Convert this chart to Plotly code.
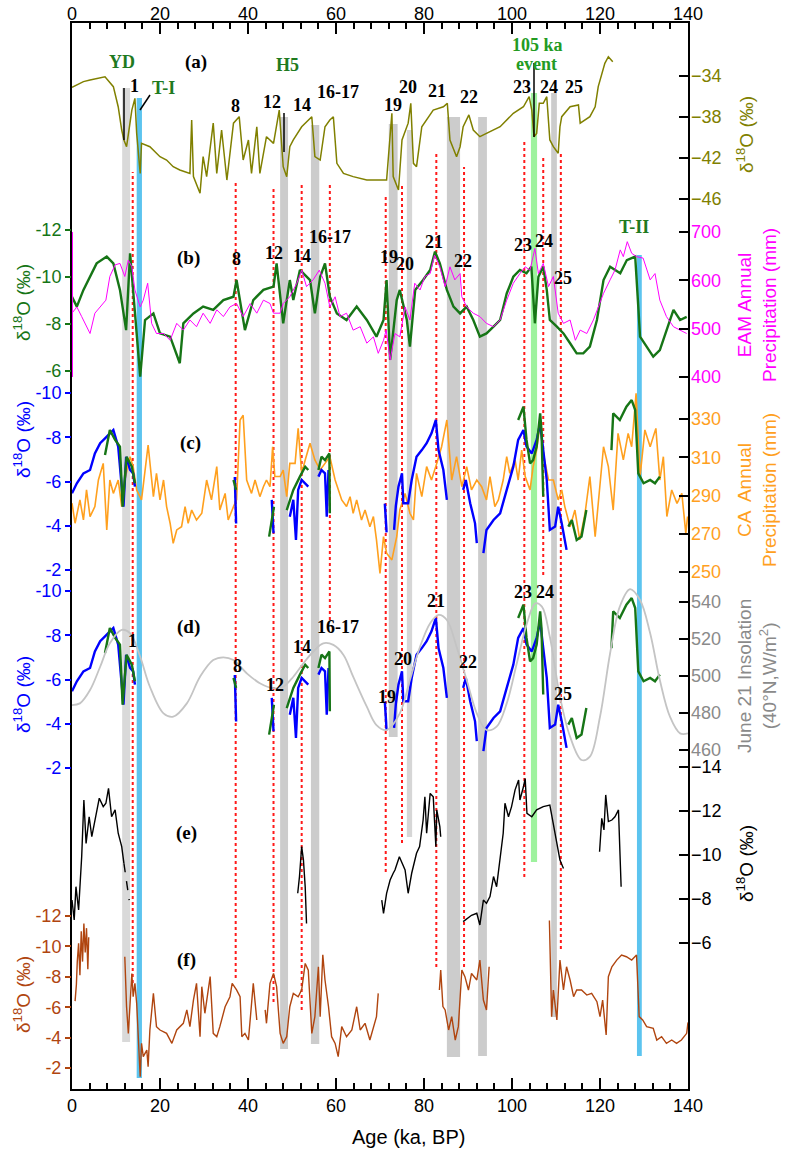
import plotly.graph_objects as go

SANS = "Liberation Sans, Arial, sans-serif"
SERIF = "Liberation Serif, Times New Roman, serif"

# ---------------- data ----------------
# (a) Greenland-type d18O (olive)
a_age = [0,2.6,4.1,6.4,7.5,9.4,10.5,11.3,11.8,12.4,13.6,14.3,14.7,15.5,15.8,17.7,20.0,21.5,23.0,24.5,26.8,27.2,27.6,29.1,29.8,30.6,32.1,32.9,34.0,35.2,36.7,38.0,38.9,40.1,40.8,42.0,42.7,44.2,45.8,47.1,48.0,48.8,49.5,50.3,52.2,54.5,55.2,56.4,57.5,58.6,59.4,60.2,61.7,63.9,67.0,70.0,71.5,72.7,73.0,74.2,75.0,76.4,77.0,77.6,78.3,79.5,82.1,84.4,85.3,85.9,87.4,88.2,88.9,90.2,91.2,92.7,94.2,97.3,100.3,102.6,103.9,104.5,105.0,105.6,106.2,107.1,107.9,108.6,109.4,110.5,110.9,111.3,113.2,115.1,115.5,117.7,118.9,119.6,121.1,121.9,122.9]
a_d18o = [-35.1,-34.55,-34.4,-34.2,-34.07,-35.04,-37.0,-39.27,-40.24,-40.9,-37.32,-36.18,-39.6,-43.5,-40.57,-40.9,-41.87,-42.2,-42.85,-43.17,-43.5,-38.29,-43.82,-45.44,-41.87,-43.82,-38.6,-43.5,-39.27,-44.15,-38.6,-37.97,-42.2,-40.24,-43.5,-38.95,-43.5,-39.92,-40.57,-37.32,-42.85,-43.82,-40.9,-40.24,-38.95,-37.97,-41.87,-42.2,-38.95,-38.29,-37.97,-42.52,-43.5,-43.82,-44.15,-44.15,-44.15,-37.64,-43.82,-45.12,-40.24,-38.6,-36.67,-42.52,-42.85,-38.95,-37.32,-37.0,-36.67,-40.24,-41.87,-40.9,-38.95,-37.8,-39.27,-39.92,-39.6,-38.95,-37.64,-37.0,-36.02,-37.32,-39.92,-39.6,-36.67,-36.67,-36.02,-40.24,-40.9,-41.54,-38.95,-37.97,-37.0,-36.83,-38.6,-37.97,-37.0,-35.04,-32.76,-32.12,-32.6]

# (b) composite speleothem d18O (green) and EAM annual precipitation (magenta)
b_age = [0,1.1,2.6,4.1,5.6,7.9,9.4,10.9,12.3,13.2,13.9,14.7,15.5,16.6,18.5,20.0,22.3,24.5,25.3,27.6,29.8,32.1,34.4,36.7,37.4,39.3,41.2,43.5,45.8,46.5,48.0,49.5,50.3,51.8,54.1,55.2,56.4,57.5,58.6,60.2,62.4,64.7,67.0,69.2,70.8,71.5,72.3,73.8,74.5,76.1,76.8,78.0,79.8,81.4,82.5,83.6,85.2,86.7,88.2,89.7,91.2,92.7,94.2,95.8,97.3,98.8,100.3,101.8,103.3,104.4,105.2,106.0,107.1,107.9,108.6,110.2,111.7,113.2,114.7,116.2,117.7,119.3,120.8,122.3,124.6,126.1,128.0,128.7,129.1,130.6,132.1,133.6,135.1,136.7,138.2,139.7]
b_d18o = [-9.16,-8.74,-9.45,-10.01,-10.58,-10.87,-10.58,-9.45,-7.74,-11.01,-9.45,-7.89,-5.76,-8.17,-8.45,-7.6,-7.46,-6.33,-8.03,-8.45,-8.74,-8.6,-9.02,-9.16,-9.87,-7.74,-9.02,-9.45,-9.59,-10.58,-8.03,-9.87,-9.02,-10.3,-9.87,-8.45,-10.01,-10.58,-9.16,-8.45,-8.17,-8.74,-8.17,-7.46,-8.17,-9.87,-6.47,-9.02,-9.45,-8.17,-7.04,-9.45,-9.87,-10.3,-11.08,-10.58,-9.45,-8.74,-8.45,-8.74,-8.17,-7.46,-7.6,-7.89,-8.17,-9.3,-10.01,-10.3,-10.16,-10.44,-8.03,-10.01,-10.44,-9.45,-8.17,-7.89,-7.6,-7.18,-6.75,-6.75,-7.04,-8.17,-9.87,-10.44,-10.16,-10.72,-10.87,-8.74,-7.46,-7.04,-6.61,-6.89,-7.74,-8.6,-8.17,-8.3]
eam_age = [0,1.1,2.2,4.1,5.2,6.4,7.7,8.6,9.8,10.9,12.0,12.8,13.6,14.3,15.5,16.2,17.2,18.1,19.2,20.8,22.3,23.8,25.3,26.8,28.3,29.8,31.4,32.9,34.4,35.9,37.4,38.9,40.5,42.0,43.5,45.0,45.8,47.3,48.0,49.5,51.1,52.2,53.3,54.8,56.2,57.5,58.6,59.8,60.9,62.4,63.9,65.5,67.0,68.5,69.6,70.8,71.4,72.3,73.4,74.5,75.7,76.8,77.9,79.1,80.2,81.4,82.4,83.6,84.8,85.9,87.0,88.2,88.6,89.7,91.2,92.7,94.2,95.8,97.3,98.8,100.3,101.8,103.0,104.1,105.2,106.0,107.1,108.3,109.4,110.5,111.7,113.2,114.4,115.5,117.0,118.5,119.6,120.8,122.3,123.4,124.6,125.3,126.2,127.2,128.3,129.8,131.4,132.5,133.6,135.1,136.7,138.2,139.7]
eam_mm = [532,545,525,490,532,545,559,608,632,635,608,642,628,580,545,559,594,511,490,490,476,511,497,518,504,532,511,539,525,545,552,525,552,532,559,552,532,532,552,566,594,621,587,601,621,594,545,566,525,532,497,504,470,483,449,476,497,435,490,483,545,518,594,580,608,614,652,628,587,628,601,614,566,545,532,525,511,504,518,559,594,614,628,621,666,614,635,587,608,532,511,518,476,497,490,518,545,573,601,621,663,649,680,656,649,646,601,614,559,525,504,497,490]

# (c) CA annual precipitation (orange)
ca_age = [0,0.7,1.8,2.6,3.3,4.1,5.2,6.0,7.1,7.9,8.6,9.4,10.5,11.3,12.0,13.2,13.9,14.7,15.8,17.3,18.5,19.2,20.0,20.8,21.5,22.3,23.0,23.8,24.9,25.7,26.4,27.2,28.3,29.5,30.6,31.7,32.9,33.6,34.8,35.5,36.7,37.4,38.2,38.9,39.7,40.8,41.6,42.7,43.5,44.2,45.0,45.6,46.1,47.3,48.0,48.8,49.5,50.7,51.4,52.2,53.0,54.1,55.2,56.4,57.5,58.6,59.8,60.5,61.3,62.4,63.2,63.9,64.7,65.8,66.6,67.7,68.5,69.2,70.0,70.8,71.5,72.7,73.8,74.5,75.7,76.8,77.6,78.3,79.5,80.6,81.7,82.9,84.0,85.2,86.3,87.4,88.6,89.7,90.8,92.0,93.1,94.2,95.0,96.1,96.9,98.0,98.8,99.5,100.7,101.4,102.2,103.0,104.1,104.8,105.6,106.4,107.1,108.3,109.4,110.5,111.3,112.0,113.2,114.3,115.4,116.6,117.7,118.9,120.0,120.8,121.9,123.0,124.1,125.3,126.4,127.2,128.2,129.1,130.2,131.4,132.7,133.6,134.4,135.2,136.3,137.5,138.6,139.5,139.9]
ca_mm = [286,275.5,287.7,277.2,292.9,279,284.2,298.1,306.8,272,298.1,291.1,298.1,284.2,298.1,310.3,305.1,292.9,287.7,316.4,289.4,301.6,287.7,298.1,284.2,275.5,265,272,273.7,284.2,275.5,282.4,277.2,280.7,298.1,287.7,305.1,282.4,291.1,277.2,284.2,287.7,329.5,332,298.1,291.1,298.1,289.4,294.6,298.1,294.6,315.5,299.9,299.9,303.3,289.4,306.8,306.8,325.1,301.6,308.6,317.3,308.6,303.3,306.8,310.3,298.1,292.9,287.7,284.2,289.4,280.7,287.7,277.2,282.4,273.7,279,266.8,249.3,268.5,259.8,256.3,268.5,282.4,291.1,280.7,277.2,301.6,289.4,305.1,298.1,306.8,315.5,329.5,298.1,310.3,294.6,305.1,292.9,298.1,294.6,287.7,299.9,284.2,287.7,298.1,310.3,301.6,308.6,298.1,313.8,299.9,292.9,305.1,313.8,327.7,312.1,298.1,298.1,287.7,292.9,284.2,273.7,282.4,266.8,280.7,299.9,268.5,298.1,315.5,305.1,282.4,322.5,308.6,322.5,315.5,343.4,299.9,324.3,315.5,325.1,298.1,310.3,279,292.9,285.9,291.1,270.2,279]

# (c)/(d) Central Asian speleothem records: blue and green
blue_age = [0,1.1,2.6,4.1,5.2,6.4,7.9,9.4,10.5,11.3,11.7,12.3,13.2,13.9,14.3,None,37.0,37.3,None,45.4,45.8,None,49.5,50.3,50.9,51.4,52.2,53.0,53.7,None,56.0,56.7,57.5,57.9,58.3,None,71.1,71.5,None,73.2,73.6,74.2,75.0,75.3,76.4,77.2,78.3,79.5,80.6,81.7,82.7,83.3,84.4,85.2,None,88.9,89.5,90.5,91.6,92.0,None,93.5,94.2,95.8,97.3,98.8,100.3,101.4,102.6,103.3,104.5,105.6,106.4,107.1,107.9,108.6,109.8,110.5,111.3,112.4]
blue_d18o = [-5.47,-5.92,-6.37,-6.52,-7.27,-7.73,-8.03,-8.33,-7.58,-5.47,-4.86,-7.12,-6.52,-6.37,-5.77,None,-6.2,-4.1,None,-5.17,-3.66,None,-4.41,-5.17,-3.36,-5.62,-6.07,-5.92,-5.77,None,-6.22,-6.52,-6.37,-4.41,-6.52,None,-5.0,-3.7,None,-3.81,-4.9,-5.77,-6.37,-5.02,-5.02,-6.07,-7.12,-7.42,-7.73,-8.18,-8.78,-7.42,-6.52,-5.17,None,-5.62,-6.07,-5.02,-4.11,-3.21,None,-2.76,-3.81,-4.26,-4.56,-5.62,-6.67,-7.88,-8.33,-7.58,-7.27,-7.88,-8.63,-7.42,-6.07,-3.81,-3.96,-4.86,-4.11,-2.91]
green_age = [7.5,8.6,9.8,10.9,11.5,12.4,13.6,14.3,None,36.7,37.3,None,44.8,45.9,None,48.8,50.3,51.8,53.0,53.7,None,56.0,56.7,57.5,58.5,58.6,None,101.4,102.6,103.3,104.1,104.8,105.6,106.4,106.7,107.1,None,112.8,113.6,114.7,115.8,116.9,None,122.6,123.0,124.5,126.0,127.2,128.0,128.7,129.9,131.4,132.5,133.6]
green_d18o = [-7.2,-8.33,-7.88,-7.58,-4.86,-7.12,-6.67,-5.92,None,-6.07,-5.62,None,-3.51,-4.86,None,-4.71,-5.62,-6.22,-6.67,-6.52,None,-6.52,-7.12,-6.97,-7.27,-4.56,None,-8.78,-9.38,-7.88,-6.82,-6.97,-7.58,-9.08,-8.33,-5.32,None,-3.96,-4.26,-3.36,-3.51,-4.71,None,-7.42,-9.08,-8.78,-9.38,-9.68,-9.23,-6.37,-5.92,-6.07,-5.92,-6.22]

# (d) June 21 insolation at 40N
ins_age = [0,1.8,4.1,6.4,8.6,11.3,13.2,15.5,17.7,20.8,23.0,26.1,29.1,32.1,34.4,36.7,39.7,42.7,45.8,48.0,50.3,52.6,54.8,57.1,59.4,61.7,63.9,67.0,69.2,71.5,74.5,76.8,79.1,81.4,83.3,85.2,87.4,89.7,92.0,94.2,96.5,98.8,101.1,103.4,105.3,106.8,108.6,110.9,113.2,115.8,117.7,120.0,122.3,124.5,126.8,129.1,131.4,133.6,135.9,138.2,140.0]
ins_wm2 = [484.3,485.2,492.4,505,517.7,524.9,523.1,510.4,494.2,479.8,478,485.2,499.6,508.6,510.1,508.6,501.5,496.1,493.4,494.2,499.6,506.9,513.1,517.7,516.8,511.4,499.6,483.4,473.5,470.8,479.8,497.8,515.8,528.5,533,530.3,515.8,497.8,479.8,470.8,472.6,485.2,506.9,528.5,539.3,537.5,521.2,488.8,467.2,454.6,456.4,478,512.3,537.5,546.9,541.1,523.1,497.8,478,469,469]

# (e) black d18O record
e_age = [0,0.5,0.9,1.5,2.2,2.7,3.2,3.9,4.5,5.2,6.2,7.1,7.7,8.3,9.0,9.8,10.5,11.3,11.8,None,51.3,51.7,52.2,52.6,53.0,53.3,None,70.4,70.8,71.5,72.3,73.0,73.4,74.4,75.7,76.4,77.2,78.3,79.0,79.8,80.2,80.6,81.4,82.1,82.7,82.9,83.6,83.8,None,88.9,90.8,92.0,92.7,93.5,94.2,95.0,95.8,96.5,97.3,98.0,98.4,99.2,99.9,100.7,101.5,101.8,102.6,103.0,103.4,104.5,105.6,107.1,108.6,109.8,110.9,111.7,None,119.9,120.4,120.9,121.3,121.9,122.7,123.4,124.2,124.8]
e_d18o = [-7.95,-7.05,-8.56,-7.5,-9.92,-12.5,-10.53,-11.74,-10.83,-11.59,-12.58,-12.2,-12.35,-13.03,-11.74,-12.05,-10.99,-10.38,-9.62,None,-8.26,-9.02,-10.38,-9.77,-8.56,-6.89,None,-7.95,-7.35,-8.26,-8.86,-9.17,-9.32,-9.92,-9.32,-8.26,-9.17,-10.08,-10.38,-11.59,-12.65,-10.99,-12.8,-12.65,-10.38,-12.05,-11.29,-10.83,None,-6.97,-7.26,-7.35,-6.82,-7.95,-7.8,-8.11,-9.02,-8.56,-9.77,-10.99,-12.35,-11.74,-12.2,-12.96,-13.41,-12.5,-13.1,-13.48,-11.89,-11.74,-12.05,-12.2,-12.27,-10.99,-9.77,-9.39,None,-10.15,-11.67,-11.14,-12.73,-11.52,-11.59,-11.74,-12.05,-8.56]
e_dash_age = [11.8,12.4,13.0]
e_dash_d18o = [-9.62,-8.86,-7.95]

# (f) brown d18O record
f_age = [0.7,1.0,1.2,1.5,1.8,2.1,2.4,2.7,3.0,3.3,3.6,3.8,None,12.0,12.4,12.8,13.2,13.6,13.9,14.3,14.7,15.1,15.5,15.8,16.2,17.0,17.3,17.7,18.5,19.2,20.0,21.5,22.7,23.8,25.3,26.1,26.8,27.6,28.3,29.1,29.5,30.2,31.4,32.1,32.9,33.6,34.8,35.9,36.4,37.4,38.2,38.6,39.3,40.1,40.5,41.2,42.0,None,43.9,44.2,45.0,45.8,46.5,47.3,48.0,48.8,49.5,50.3,51.4,52.2,53.0,53.7,54.5,55.2,56.0,56.4,57.0,57.5,58.3,59.0,59.8,60.5,61.3,62.4,63.6,64.7,65.5,66.6,67.7,68.5,69.2,69.6,None,83.5,83.8,84.3,84.8,85.6,86.3,87.1,87.8,88.6,89.3,90.1,90.8,92.0,92.7,93.5,94.2,94.8,None,108.5,109.0,109.4,110.2,110.9,111.7,112.4,113.2,114.0,114.7,115.8,117.0,118.1,119.3,120.0,120.6,121.4,121.9,122.7,123.8,124.9,126.0,127.2,128.3,128.9,129.7,130.6,132.1,132.9,134.0,135.1,136.3,137.4,138.5,139.7,140.0]
f_d18o = [-6.4,-7.5,-9.0,-10.2,-8.1,-11.0,-9.0,-11.5,-9.6,-11.2,-8.5,-10.6,None,-9.32,-6.04,-4.28,-6.47,-8.22,-6.69,-7.57,-6.25,-3.84,-1.43,-3.62,-2.75,-3.18,-2.09,-4.5,-6.91,-4.72,-4.5,-4.28,-3.62,-4.5,-4.94,-5.82,-4.72,-6.47,-7.57,-4.06,-7.35,-5.6,-8.01,-4.28,-4.06,-4.72,-6.03,-6.69,-7.57,-7.14,-6.69,-4.06,-4.28,-3.84,-5.16,-7.57,-5.16,None,-5.82,-4.94,-7.57,-8.22,-7.35,-4.28,-3.62,-4.06,-6.03,-6.91,-6.69,-7.14,-8.88,-8.44,-4.28,-5.38,-8.66,-5.38,-9.45,-7.79,-6.03,-4.06,-3.62,-2.75,-4.72,-4.06,-4.5,-6.03,-4.5,-4.94,-3.84,-4.72,-5.38,-6.91,None,-7.13,-8.45,-6.04,-5.82,-4.5,-5.38,-3.84,-4.72,-8.45,-8.01,-7.13,-8.22,-7.79,-9.1,-6.47,-5.82,-8.66,None,-11.7,-5.38,-7.13,-5.16,-9.1,-7.13,-8.66,-7.79,-6.69,-7.13,-7.13,-6.8,-6.91,-6.36,-5.38,-6.47,-4.17,-8.01,-8.66,-9.1,-9.43,-9.32,-9.1,-9.43,-5.38,-5.16,-4.72,-4.61,-3.84,-4.06,-3.62,-3.84,-3.62,-3.84,-4.28,-5.0]

# event bands (ka) and dotted event lines (ka)
band_start = [11.4, 14.7, 47.3, 54.3, 72.0, 76.1, 85.2, 92.3, 104.3, 108.9, 128.4]
band_end   = [13.2, 15.9, 49.1, 56.2, 74.0, 77.3, 88.2, 94.3, 105.7, 110.2, 129.5]
event_age  = [13.8, 37.2, 45.8, 52.2, 58.6, 71.3, 75.0, 82.8, 89.1, 102.8, 107.1, 111.1]

# tick labels
x_ticks = [0, 20, 40, 60, 80, 100, 120, 140]
a_ticks = [-46, -42, -38, -34]
b_ticks = [-12, -10, -8, -6]
eam_ticks = [400, 500, 600, 700]
cd_ticks = [-10, -8, -6, -4, -2]
ca_ticks = [250, 270, 290, 310, 330]
ins_ticks = [460, 480, 500, 520, 540]
e_ticks = [-14, -12, -10, -8, -6]
f_ticks = [-12, -10, -8, -6, -4, -2]

# ---------------- styling / layout helpers ----------------
TOP_PX, BOT_PX = 23, 1089
PH = BOT_PX - TOP_PX

def pf(ypx):
    return (BOT_PX - ypx) / PH

def pxx(xpx):
    return (xpx - 72) / 616.0

def lab(v, side):
    s = str(v)
    if side == 'right':
        s = s.replace("-", "\u2212")
    return s

def yax(v1, p1, v2, p2, top, bot, side, color, ticks, overlay=None):
    s = (p2 - p1) / (v2 - v1)
    vt = v1 + (top - p1) / s
    vb = v1 + (bot - p1) / s
    d = dict(domain=[pf(bot), pf(top)], range=[vb, vt], anchor='x', side=side,
             showgrid=False, zeroline=False, showline=False,
             tickmode='array', tickvals=ticks, ticktext=[lab(t, side) for t in ticks],
             tickfont=dict(family=SANS, size=18, color=color))
    if side == 'left':
        d.update(ticks='outside', ticklen=6, tickwidth=1.5, tickcolor=color)
    else:
        d.update(ticks='inside', ticklen=9, tickwidth=1.5, tickcolor='black',
                 ticklabelstandoff=2)
    if overlay:
        d['overlaying'] = overlay
    return d

OLIVE = '#808000'
GREEN = '#167516'
MAG = '#ff00ff'
BLUE = '#0000ff'
ORANGE = '#ffa01e'
GRAYL = '#c4c4c4'
GRAYT = '#8a8a8a'
BROWN = '#b0450f'
LGREEN = '#1f7a1f'

fig = go.Figure()

def line(x, y, yaxis, color, width, dash=None, shape='linear', xaxis='x'):
    fig.add_trace(go.Scatter(x=x, y=y, xaxis=xaxis, yaxis=yaxis, mode='lines',
                             line=dict(color=color, width=width, dash=dash, shape=shape),
                             showlegend=False, hoverinfo='skip', connectgaps=False))

# dummy traces for frame axes
fig.add_trace(go.Scatter(x=[0, 140], y=[0, 0], xaxis='x', yaxis='y', mode='none',
                         showlegend=False, hoverinfo='skip'))
fig.add_trace(go.Scatter(x=[0, 140], y=[0, 0], xaxis='x2', yaxis='y', mode='none',
                         showlegend=False, hoverinfo='skip'))

line(a_age, a_d18o, 'y2', OLIVE, 1.5)
line(b_age, b_d18o, 'y3', GREEN, 2.4)
line(eam_age, eam_mm, 'y4', MAG, 1.0)
line(ca_age, ca_mm, 'y5', ORANGE, 1.6)
line(blue_age, blue_d18o, 'y6', BLUE, 2.4)
line(green_age, green_d18o, 'y6', GREEN, 2.4)
line(blue_age, blue_d18o, 'y7', BLUE, 2.4)
line(green_age, green_d18o, 'y7', GREEN, 2.4)
line(ins_age, ins_wm2, 'y8', GRAYL, 1.8, shape='spline')
line(e_age, e_d18o, 'y9', 'black', 1.4)
line(e_dash_age, e_dash_d18o, 'y9', 'black', 1.4, dash='dash')
line(f_age, f_d18o, 'y10', BROWN, 1.4)

def xcommon():
    return dict(range=[0, 140], tickmode='array', tickvals=x_ticks,
                ticktext=[str(t) for t in x_ticks], ticks='inside', ticklen=11,
                tickwidth=1.5, tickcolor='black', showgrid=False, zeroline=False,
                showline=True, linecolor='black', linewidth=1.5,
                tickfont=dict(family=SANS, size=18, color='black'),
                minor=dict(ticks='inside', ticklen=6, tick0=0, dtick=4,
                           tickcolor='black', tickwidth=1.5, showgrid=False))

layout = dict(
    width=787, height=1150,
    margin=dict(l=72, r=99, t=23, b=61, autoexpand=False),
    paper_bgcolor='white', plot_bgcolor='rgba(0,0,0,0)',
    showlegend=False,
    xaxis=dict(domain=[0, 1], anchor='y', side='bottom', **xcommon()),
    xaxis2=dict(overlaying='x', anchor='y', side='top', ticklabelstandoff=-6, **xcommon()),
    yaxis=dict(domain=[0, 1], range=[0, 1], showline=True, mirror=True,
               linecolor='black', linewidth=1.5, showticklabels=False,
               ticks='', showgrid=False, zeroline=False),
    yaxis2=yax(-34, 76, -46, 199, 40, 215, 'right', OLIVE, a_ticks),
    yaxis3=yax(-12, 230, -6, 371, 200, 400, 'left', GREEN, b_ticks),
    yaxis4=yax(700, 232, 400, 377, 200, 400, 'right', MAG, eam_ticks, overlay='y3'),
    yaxis5=yax(330, 419, 250, 572, 375, 590, 'right', ORANGE, ca_ticks),
    yaxis6=yax(-10, 393, -2, 570, 375, 590, 'left', BLUE, cd_ticks, overlay='y5'),
    yaxis7=yax(-10, 591, -2, 768, 570, 790, 'left', BLUE, cd_ticks),
    yaxis8=yax(540, 602, 460, 750, 570, 790, 'right', GRAYT, ins_ticks, overlay='y7'),
    yaxis9=yax(-14, 767, -6, 943, 740, 955, 'right', 'black', e_ticks),
    yaxis10=yax(-12, 916, -2, 1068, 895, 1085, 'left', BROWN, f_ticks),
)
fig.update_layout(**layout)

# ---------------- shapes ----------------
band_px = [(88, 1042), (98, 1078), (117, 1049), (125, 1044), (124, 737), (130, 837),
           (117, 1057), (117, 1056), (93, 862), (93, 1017), (255, 1056)]
band_col = ['#d9d9d9', '#5cc4ef', '#cccccc', '#cccccc', '#cccccc', '#d6d6d6',
            '#cccccc', '#cccccc', '#9ef29e', '#cccccc', '#5cc4ef']
shapes = []
for s, e, (tp, bp), c in zip(band_start, band_end, band_px, band_col):
    shapes.append(dict(type='rect', xref='x', yref='paper', x0=s, x1=e,
                       y0=pf(bp), y1=pf(tp), fillcolor=c, line=dict(width=0),
                       layer='below'))
event_px = [(172, 983), (182, 978), (187, 1002), (182, 1010), (183, 620), (195, 872),
            (185, 843), (154, 967), (167, 967), (142, 877), (155, 575), (152, 949)]
for a, (tp, bp) in zip(event_age, event_px):
    shapes.append(dict(type='line', xref='x', yref='paper', x0=a, x1=a,
                       y0=pf(bp), y1=pf(tp), line=dict(color='#ff1a1a', width=2, dash='dot'),
                       layer='below'))
# black marker lines
for x0, y0, x1, y1 in [(124, 88, 124, 140), (284, 113, 284, 152), (534, 63, 534, 137),
                       (140, 110, 150, 95)]:
    shapes.append(dict(type='line', xref='paper', yref='paper', x0=pxx(x0), x1=pxx(x1),
                       y0=pf(y0), y1=pf(y1), line=dict(color='black', width=1.5),
                       layer='above'))
# magenta left spine for EAM axis
shapes.append(dict(type='line', xref='x', yref='y4', x0=0, x1=0, y0=400, y1=700,
                   line=dict(color=MAG, width=2), layer='above'))
fig.update_layout(shapes=shapes)

# ---------------- annotations ----------------
anns = []

def ann(text, xpx, ypx, color='black', size=18, family=SERIF, angle=0):
    anns.append(dict(text=text, x=pxx(xpx), y=pf(ypx), xref='paper', yref='paper',
                     showarrow=False, xanchor='center', yanchor='middle', textangle=angle,
                     font=dict(family=family, size=size, color=color)))

num_labels = [("1", 134, 86), ("8", 235, 106), ("12", 272, 102), ("14", 302, 105),
              ("16-17", 338, 92), ("19", 393, 105), ("20", 408, 87), ("21", 437, 91),
              ("22", 469, 97), ("23", 522, 87), ("24", 549, 87), ("25", 574, 87),
              ("8", 236, 259), ("12", 274, 253), ("14", 302, 256), ("16-17", 330, 237),
              ("19", 389, 257), ("20", 405, 264), ("21", 434, 242), ("22", 463, 261),
              ("23", 523, 245), ("24", 544, 241), ("25", 563, 278),
              ("1", 132, 641), ("8", 237, 666), ("12", 275, 685), ("14", 302, 647),
              ("16-17", 338, 627), ("19", 387, 697), ("20", 403, 659), ("21", 436, 601),
              ("22", 468, 662), ("23", 523, 592), ("24", 545, 592), ("25", 563, 694)]
for t, x, y in num_labels:
    ann("<b>%s</b>" % t, x, y)
for t, x, y in [("(a)", 196, 62), ("(b)", 188, 258), ("(c)", 190, 443), ("(d)", 188, 627),
                ("(e)", 186, 833), ("(f)", 186, 960)]:
    ann("<b>%s</b>" % t, x, y, size=19)
for t, x, y in [("YD", 122, 62), ("T-I", 163, 88), ("H5", 287, 65), ("T-II", 634, 227)]:
    ann("<b>%s</b>" % t, x, y, color=LGREEN)
ann("<b>105 ka</b>", 537, 45, color='#239b23')
ann("<b>event</b>", 536, 64, color='#239b23')

D18 = "\u03b4<sup>18</sup>O (\u2030)"
ann(D18, 745, 135, color=OLIVE, size=19, family=SANS, angle=-90)
ann(D18, 22, 303, color=GREEN, size=19, family=SANS, angle=-90)
ann(D18, 22, 440, color=BLUE, size=19, family=SANS, angle=-90)
ann(D18, 22, 695, color=BLUE, size=19, family=SANS, angle=-90)
ann(D18, 745, 864, color='black', size=19, family=SANS, angle=-90)
ann(D18, 22, 995, color=BROWN, size=19, family=SANS, angle=-90)
ann("EAM Annual<br>Precipitation (mm)", 757, 305, color=MAG, size=19, family=SANS, angle=-90)
ann("CA  Annual<br>Precipitation (mm)", 757, 490, color=ORANGE, size=19, family=SANS, angle=-90)
ann("June 21 Insolation<br>(40\u00b0N,W/m<sup>2</sup>)", 757, 676, color=GRAYT, size=19,
    family=SANS, angle=-90)
ann("Age (ka, BP)", 408, 1137, color='black', size=20, family=SANS)

fig.update_layout(annotations=anns)

fig.write_html("out.html", config={'displayModeBar': False},
               post_script="document.body.style.margin='0px';document.body.style.padding='0px';")
